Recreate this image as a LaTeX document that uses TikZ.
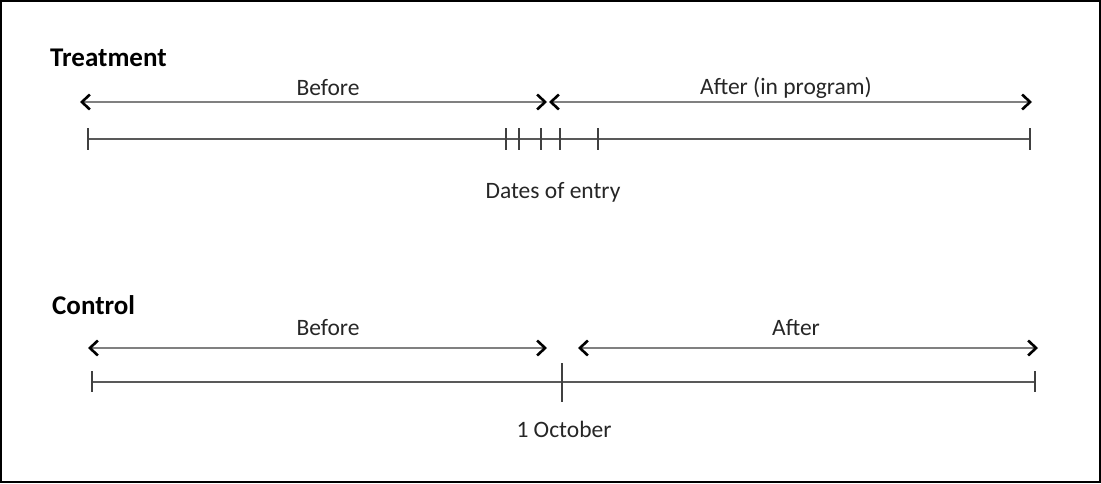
\documentclass[tikz,border=0pt]{standalone}
\usepackage{fontspec}
\setmainfont{Carlito}
\usetikzlibrary{arrows.meta}
\begin{document}
\begin{tikzpicture}[x=1pt,y=-1pt,
  barb/.tip={Straight Barb[color=black,length=8pt,width=15pt,line width=2.6pt]},
  span/.style={draw=black!50, line width=2.8pt, arrows={barb-barb}},
  axis/.style={draw=black!65, line width=1.8pt},
  tick/.style={draw=black!75, line width=1.8pt},
  lbl/.style={font=\fontsize{23.5}{28}\selectfont, text=black!85, inner sep=0pt},
  head/.style={font=\fontsize{27}{32}\selectfont\bfseries, inner sep=0pt, anchor=west}]
\useasboundingbox (0,0) rectangle (1101,483);
\draw[line width=1.6pt] (1,1) rectangle (1100,482);

% Treatment
\node[head] (tr) at (50,58) {Treatment};
\coordinate (tbl) at (80,102);
\coordinate (tbr) at (547,102);
\coordinate (tal) at (549,102);
\coordinate (tar) at (1032,102);
\draw[span] (tbl) -- (tbr);
\draw[span] (tal) -- (tar);
\node[lbl] (tbefore) at (328,88) {Before};
\node[lbl] (tafter) at (786,88) {After (in program)};
\coordinate (tl) at (88,139);
\coordinate (tr2) at (1030,139);
\draw[axis] (tl) -- (tr2);
\foreach \x [count=\i] in {88,506,519,541,560,598,1030}
  \draw[tick] (\x,128) coordinate (tt\i) -- (\x,150);
\node[lbl] (dates) at (553,192) {Dates of entry};

% Control
\node[head] (ct) at (52,305) {Control};
\coordinate (cbl) at (88,348);
\coordinate (cbr) at (547,348);
\coordinate (cal) at (578,348);
\coordinate (car) at (1038,348);
\draw[span] (cbl) -- (cbr);
\draw[span] (cal) -- (car);
\node[lbl] (cbefore) at (328,328) {Before};
\node[lbl] (cafter) at (796,328) {After};
\coordinate (cl) at (92,382);
\coordinate (cr) at (1035,382);
\draw[axis] (cl) -- (cr);
\draw[tick] (92,371) -- (92,392);
\draw[tick] (1035,371) -- (1035,392);
\draw[tick, line width=2.2pt] (562,363) coordinate (oct) -- (562,402);
\node[lbl] (octlbl) at (564,429) {1 October};
\end{tikzpicture}
\end{document}
